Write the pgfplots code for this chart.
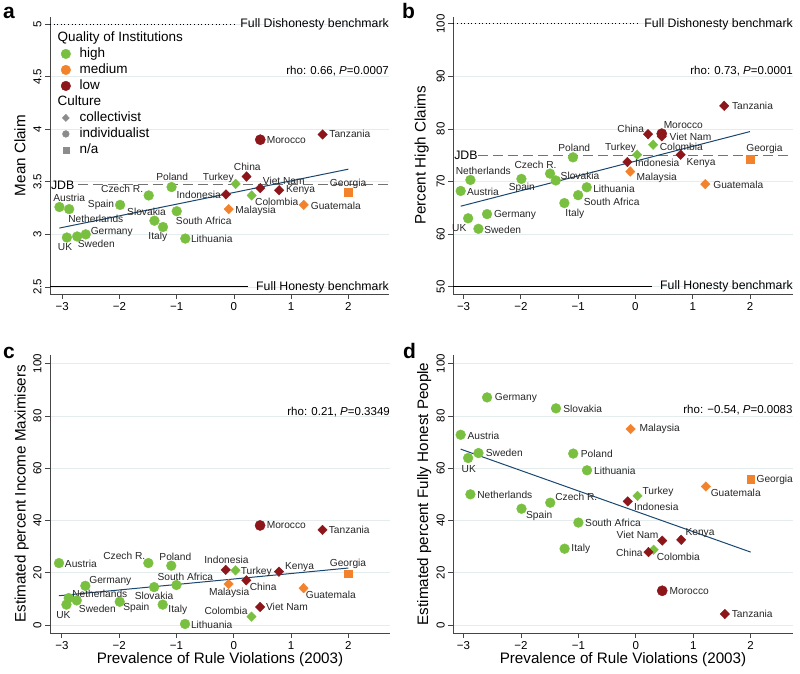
\documentclass[border=0pt]{standalone}
\usepackage{fontspec}
\setmainfont{Liberation Sans}
\usepackage{pgfplots}
\usepackage{pgfplotstable}
\pgfplotsset{compat=1.18}
\definecolor{cgreen}{RGB}{122,192,64}
\definecolor{corange}{RGB}{242,130,44}
\definecolor{cred}{RGB}{140,22,26}
\definecolor{cline}{RGB}{26,71,111}
\definecolor{cgrid}{RGB}{228,236,238}
\definecolor{caxis}{RGB}{70,70,70}
\definecolor{cgray}{RGB}{140,140,140}

% x = rule violations; a = mean claim; b = percent high claims; c = income maximisers; d = fully honest
\pgfplotstableread{
x     a     b     c     d
-3.05 3.26  68.2  23.7  72.8
-2.88 3.24  70.3  10.3  50.0
-2.92 2.97  63.0  7.8   63.9
-2.74 2.98  61.0  9.4   65.8
-2.59 3.00  63.8  15.0  87.1
-1.99 3.28  70.5  8.9   44.5
-1.49 3.37  71.5  23.7  46.8
-1.39 3.13  70.2  14.5  82.9
-1.24 3.07  65.9  7.8   29.2
-1.09 3.45  74.6  22.7  65.6
-1.00 3.22  67.4  15.3  39.2
-0.85 2.96  68.9  0.4   59.2
}\greencirc
\pgfplotstableread{
x     a     b     c     d
0.03  3.48  75.1  20.9  49.4
0.31  3.37  77.0  3.2   28.8
}\greendiam
\pgfplotstableread{
x     a     b     c     d
-0.14 3.38  73.7  21.1  47.3
0.22  3.55  79.0  17.1  27.9
0.46  3.44  78.6  6.9   32.3
0.79  3.42  75.1  20.4  32.6
1.55  3.95  84.4  36.4  4.2
}\reddiam
\pgfplotstableread{
x     a     b     c     d
0.46  3.90  79.1  38.1  13.1
}\redcirc
\pgfplotstableread{
x     a     b     c     d
-0.09 3.24  71.9  15.7  75.0
1.22  3.28  69.5  14.1  53.0
}\orangediam
\pgfplotstableread{
x     a     b     c     d
2.00  3.40  74.3  19.6  55.9
}\orangesq

\newcommand{\lab}[3]{\node[font=\fontsize{10.2}{12}\selectfont, text=black!85, inner sep=0pt, anchor=center] at (axis cs:#1,#2) {#3};}

\tikzset{
  bench/.style={font=\fontsize{12.3}{14}\selectfont, inner sep=0pt},
  rho/.style={font=\fontsize{11.5}{13}\selectfont, inner sep=0pt, anchor=east},
}

\pgfplotsset{
  panel/.style={
    scale only axis,
    axis lines*=left,
    axis line style={caxis, line width=0.8pt},
    tick style={caxis, line width=0.8pt},
    major tick length=5pt,
    tick align=outside,
    xtick={-3,-2,-1,0,1,2},
    xticklabels={−3,−2,−1,0,1,2},
    ticklabel style={font=\fontsize{11.5}{13}\selectfont},
    yticklabel style={rotate=90, anchor=south},
    /pgf/number format/assume math mode=true,
    ymajorgrids,
    grid style={cgrid, line width=0.8pt},
    label style={font=\fontsize{15.2}{18}\selectfont},
    clip=false,
  },
  gc/.style={only marks, mark=*, mark size=4.9pt, color=cgreen, forget plot},
  gd/.style={only marks, mark=diamond*, mark size=4.8pt, mark options={xscale=1.3}, color=cgreen, forget plot},
  rd/.style={only marks, mark=diamond*, mark size=4.8pt, mark options={xscale=1.3}, color=cred, forget plot},
  rc/.style={only marks, mark=*, mark size=5.1pt, color=cred, forget plot},
  od/.style={only marks, mark=diamond*, mark size=4.8pt, mark options={xscale=1.3}, color=corange, forget plot},
  os/.style={only marks, mark=square*, mark size=3.9pt, color=corange, forget plot},
  regline/.style={cline, line width=1pt, no marks, forget plot},
}

\begin{document}
\begin{tikzpicture}
\useasboundingbox (0pt,0pt) rectangle (800pt,674pt);

\node[anchor=base west, font=\fontsize{21}{24}\bfseries, inner sep=0pt] at (3pt,655pt) {a};
\node[anchor=base west, font=\fontsize{21}{24}\bfseries, inner sep=0pt] at (402pt,655pt) {b};
\node[anchor=base west, font=\fontsize{21}{24}\bfseries, inner sep=0pt] at (3pt,315pt) {c};
\node[anchor=base west, font=\fontsize{21}{24}\bfseries, inner sep=0pt] at (403pt,315pt) {d};

% ---------------- panel a
\begin{axis}[panel, at={(50pt,380pt)}, anchor=south west, width=339pt, height=277pt,
  xmin=-3.215, xmax=2.71, ymin=2.433, ymax=5.067,
  ytick={2.5,3,3.5,4,4.5,5}, yticklabels={2.5,3,3.5,4,4.5,5},
  ylabel={Mean Claim}, ylabel style={at={(axis description cs:-0.0885,0.5)}, anchor=center},
  legend cell align=left,
  legend style={draw=none, fill=none, at={(axis description cs:0.021,0.954)}, anchor=north west,
    font=\fontsize{13.5}{15}\selectfont, row sep=0pt, inner sep=0pt,
    nodes={text height=9.8pt, text depth=3pt, inner ysep=1.6pt, inner xsep=2pt}},
]
\addlegendimage{empty legend}\addlegendentry{\hspace{-15pt}Quality of Institutions}
\addlegendimage{only marks, mark=*, mark size=4.8pt, color=cgreen}\addlegendentry{\hspace{7pt}high}
\addlegendimage{only marks, mark=*, mark size=4.8pt, color=corange}\addlegendentry{\hspace{7pt}medium}
\addlegendimage{only marks, mark=*, mark size=4.8pt, color=cred}\addlegendentry{\hspace{7pt}low}
\addlegendimage{empty legend}\addlegendentry{\hspace{-15pt}Culture}
\addlegendimage{only marks, mark=diamond*, mark size=3.6pt, mark options={xscale=1.3}, color=cgray}\addlegendentry{\hspace{7pt}collectivist}
\addlegendimage{only marks, mark=*, mark size=3.4pt, color=cgray}\addlegendentry{\hspace{7pt}individualist}
\addlegendimage{only marks, mark=square*, mark size=2.9pt, color=cgray}\addlegendentry{\hspace{7pt}n/a}

\addplot[black, line width=1pt, dash pattern=on 1pt off 2.6pt, forget plot] coordinates {(-3.215,5) (0.03,5)};
\node[bench, anchor=east] at (axis cs:2.71,5) {Full Dishonesty benchmark};
\addplot[black, line width=1pt, forget plot] coordinates {(-3.215,2.5) (0.25,2.5)};
\node[bench, anchor=east] at (axis cs:2.71,2.5) {Full Honesty benchmark};
\addplot[black!55, line width=0.9pt, dash pattern=on 10pt off 5pt, forget plot] coordinates {(-2.726,3.47) (2.71,3.47)};
\node[bench, anchor=west] at (axis cs:-3.2,3.47) {JDB};
\node[rho] at (axis cs:2.71,4.556) {rho: 0.66, \textit{P}=0.0007};

\addplot[regline] coordinates {(-3.05,3.06) (2.0,3.62)};
\addplot[gc] table[x=x, y=a] {\greencirc};
\addplot[gd] table[x=x, y=a] {\greendiam};
\addplot[od] table[x=x, y=a] {\orangediam};
\addplot[os] table[x=x, y=a] {\orangesq};
\addplot[rd] table[x=x, y=a] {\reddiam};
\addplot[rc] table[x=x, y=a] {\redcirc};

\lab{-2.88}{3.349}{Austria}
\lab{-2.414}{3.146}{Netherlands}
\lab{-2.323}{3.279}{Spain}
\lab{-1.953}{3.429}{Czech R.}
\lab{-1.079}{3.549}{Poland}
\lab{-1.528}{3.213}{Slovakia}
\lab{-1.33}{2.978}{Italy}
\lab{-0.528}{3.13}{South Africa}
\lab{-0.388}{2.956}{Lithuania}
\lab{-2.953}{2.877}{UK}
\lab{-2.406}{2.906}{Sweden}
\lab{-2.136}{3.02}{Germany}
\lab{-0.273}{3.533}{Turkey}
\lab{0.233}{3.644}{China}
\lab{-0.615}{3.375}{Indonesia}
\lab{0.871}{3.505}{Viet Nam}
\lab{1.164}{3.422}{Kenya}
\lab{0.748}{3.311}{Colombia}
\lab{0.378}{3.225}{Malaysia}
\lab{1.78}{3.273}{Guatemala}
\lab{1.995}{3.476}{Georgia}
\lab{0.916}{3.897}{Morocco}
\lab{2.026}{3.954}{Tanzania}
\end{axis}

% ---------------- panel b
\begin{axis}[panel, at={(453.3pt,380pt)}, anchor=south west, width=339.7pt, height=277pt,
  xmin=-3.179, xmax=2.751, ymin=48.6, ymax=101.3,
  ytick={50,60,70,80,90,100},
  ylabel={Percent High Claims}, ylabel style={at={(axis description cs:-0.093,0.5)}, anchor=center},
]
\addplot[black, line width=1pt, dash pattern=on 1pt off 2.6pt, forget plot] coordinates {(-3.179,100) (0.05,100)};
\node[bench, anchor=east] at (axis cs:2.751,100) {Full Dishonesty benchmark};
\addplot[black, line width=1pt, forget plot] coordinates {(-3.179,50) (0.29,50)};
\node[bench, anchor=east] at (axis cs:2.751,50) {Full Honesty benchmark};
\addplot[black!55, line width=0.9pt, dash pattern=on 10pt off 5pt, forget plot] coordinates {(-2.747,75) (2.751,75)};
\node[bench, anchor=west] at (axis cs:-3.165,75) {JDB};
\node[rho] at (axis cs:2.751,91.1) {rho: 0.73, \textit{P}=0.0001};

\addplot[regline] coordinates {(-3.05,65.3) (2.0,79.5)};
\addplot[gc] table[x=x, y=b] {\greencirc};
\addplot[gd] table[x=x, y=b] {\greendiam};
\addplot[od] table[x=x, y=b] {\orangediam};
\addplot[os] table[x=x, y=b] {\orangesq};
\addplot[rd] table[x=x, y=b] {\reddiam};
\addplot[rc] table[x=x, y=b] {\redcirc};

\lab{2.044}{84.4}{Tanzania}
\lab{0.836}{80.78}{Morocco}
\lab{0.962}{78.55}{Viet Nam}
\lab{-0.082}{79.96}{China}
\lab{0.801}{76.65}{Colombia}
\lab{-0.26}{76.34}{Turkey}
\lab{-1.068}{76.34}{Poland}
\lab{-1.744}{73.16}{Czech R.}
\lab{-2.655}{72.02}{Netherlands}
\lab{-0.967}{71.07}{Slovakia}
\lab{-1.983}{68.73}{Spain}
\lab{-2.66}{68.08}{Austria}
\lab{-0.374}{68.54}{Lithuania}
\lab{-0.414}{66.18}{South Africa}
\lab{-1.058}{63.84}{Italy}
\lab{-2.102}{63.65}{Germany}
\lab{-3.074}{61.12}{UK}
\lab{-2.316}{60.79}{Sweden}
\lab{0.382}{73.6}{Indonesia}
\lab{1.145}{73.6}{Kenya}
\lab{0.372}{70.75}{Malaysia}
\lab{1.796}{69.36}{Guatemala}
\lab{2.253}{76.15}{Georgia}
\end{axis}

% ---------------- panel c
\begin{axis}[panel, at={(50pt,41pt)}, anchor=south west, width=340pt, height=278.2pt,
  xmin=-3.207, xmax=2.728, ymin=-3.06, ymax=103.4,
  ytick={0,20,40,60,80,100},
  ylabel={Estimated percent Income Maximisers}, ylabel style={at={(axis description cs:-0.083,0.5)}, anchor=center},
  xlabel={Prevalence of Rule Violations (2003)}, xlabel style={at={(axis description cs:0.5,-0.097)}, anchor=center},
]
\node[rho] at (axis cs:2.728,81.6) {rho: 0.21, \textit{P}=0.3349};
\addplot[regline] coordinates {(-3.05,11.2) (2.0,21.8)};
\addplot[gc] table[x=x, y=c] {\greencirc};
\addplot[gd] table[x=x, y=c] {\greendiam};
\addplot[od] table[x=x, y=c] {\orangediam};
\addplot[os] table[x=x, y=c] {\orangesq};
\addplot[rd] table[x=x, y=c] {\reddiam};
\addplot[rc] table[x=x, y=c] {\redcirc};

\lab{0.918}{38.1}{Morocco}
\lab{2.016}{36.47}{Tanzania}
\lab{-2.669}{23.34}{Austria}
\lab{-1.91}{26.52}{Czech R.}
\lab{-1.019}{26.25}{Poland}
\lab{-2.154}{16.95}{Germany}
\lab{-2.337}{11.98}{Netherlands}
\lab{-1.391}{11.21}{Slovakia}
\lab{-0.845}{18.6}{South Africa}
\lab{-1.7}{6.5}{Spain}
\lab{-2.38}{6.24}{Sweden}
\lab{-2.974}{3.94}{UK}
\lab{-0.976}{5.86}{Italy}
\lab{-0.384}{0.11}{Lithuania}
\lab{-0.126}{24.99}{Indonesia}
\lab{0.393}{20.5}{Turkey}
\lab{1.149}{22.2}{Kenya}
\lab{1.995}{23.34}{Georgia}
\lab{0.513}{14.77}{China}
\lab{-0.08}{12.25}{Malaysia}
\lab{1.695}{11.48}{Guatemala}
\lab{0.93}{6.89}{Viet Nam}
\lab{-0.134}{5.47}{Colombia}
\end{axis}

% ---------------- panel d
\begin{axis}[panel, at={(453.3pt,41pt)}, anchor=south west, width=339.4pt, height=278.2pt,
  xmin=-3.178, xmax=2.732, ymin=-3.06, ymax=103.4,
  ytick={0,20,40,60,80,100},
  ylabel={Estimated percent Fully Honest People}, ylabel style={at={(axis description cs:-0.086,0.5)}, anchor=center},
  xlabel={Prevalence of Rule Violations (2003)}, xlabel style={at={(axis description cs:0.5,-0.097)}, anchor=center},
]
\node[rho] at (axis cs:2.732,82.1) {rho: −0.54, \textit{P}=0.0083};
\addplot[regline] coordinates {(-3.05,67.3) (2.0,27.9)};
\addplot[gc] table[x=x, y=d] {\greencirc};
\addplot[gd] table[x=x, y=d] {\greendiam};
\addplot[od] table[x=x, y=d] {\orangediam};
\addplot[os] table[x=x, y=d] {\orangesq};
\addplot[rd] table[x=x, y=d] {\reddiam};
\addplot[rc] table[x=x, y=d] {\redcirc};

\lab{-2.088}{86.87}{Germany}
\lab{-0.925}{82.66}{Slovakia}
\lab{0.416}{75.01}{Malaysia}
\lab{-2.652}{72.56}{Austria}
\lab{-2.29}{66.05}{Sweden}
\lab{-2.908}{59.82}{UK}
\lab{-0.679}{65.44}{Poland}
\lab{-0.366}{59.17}{Lithuania}
\lab{2.419}{55.61}{Georgia}
\lab{1.74}{50.52}{Guatemala}
\lab{0.387}{51.13}{Turkey}
\lab{0.357}{45.39}{Indonesia}
\lab{-2.281}{49.87}{Netherlands}
\lab{-1.036}{49.21}{Czech R.}
\lab{-1.682}{41.94}{Spain}
\lab{-0.397}{39.27}{South Africa}
\lab{-0.958}{29.09}{Italy}
\lab{0.03}{34.56}{Viet Nam}
\lab{1.118}{35.2}{Kenya}
\lab{-0.113}{27.78}{China}
\lab{0.74}{26.25}{Colombia}
\lab{0.93}{12.86}{Morocco}
\lab{2.027}{4.21}{Tanzania}
\end{axis}
\end{tikzpicture}
\end{document}
